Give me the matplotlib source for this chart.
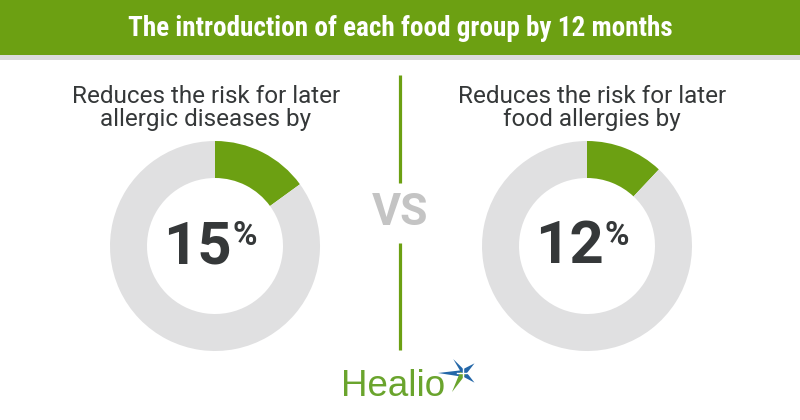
import matplotlib
matplotlib.use("Agg")
import matplotlib.pyplot as plt
from matplotlib.patches import Rectangle, Polygon
import numpy as np

title = "The introduction of each food group by 12 months"
labels = ["Reduces the risk for later\nallergic diseases by",
          "Reduces the risk for later\nfood allergies by"]
values = [15, 12]
brand = "Healio"

GREEN = "#6ca012"
GREY = "#e0e0e1"
DARK = "#353839"

fig = plt.figure(figsize=(8, 4.2), dpi=100)
ax = fig.add_axes([0, 0, 1, 1])

H = 420
def Y(py):
    return H - py

centers = [(215, 246), (587, 246)]
text_x = [206, 592]
R = 105
W = 37
for i, v in enumerate(values):
    cx, cy = centers[i]
    ax.pie([v, 100 - v], colors=[GREEN, GREY], startangle=90,
           counterclock=False, center=(cx, Y(cy)), radius=R,
           wedgeprops=dict(width=W, linewidth=0), frame=True)
    ax.text(text_x[i], Y(108), labels[i], ha="center", va="center",
            fontsize=17.5, color=DARK, family="Roboto", linespacing=1.05)
    # number
    ax.text(cx + 17, Y(247), str(v), ha="right", va="center", fontsize=43,
            fontweight="bold", color=DARK, family="Roboto")
    ax.text(cx + 18, Y(236), "%", ha="left", va="center", fontsize=24,
            fontweight="bold", color=DARK, family="Roboto")

ax.set_xlim(0, 800)
ax.set_ylim(0, 420)
ax.set_aspect("equal")
ax.axis("off")

# header
ax.add_patch(Rectangle((0, Y(55)), 800, 55, color=GREEN, lw=0))
ax.add_patch(Rectangle((0, Y(60)), 800, 5, color="#dcdcdc", lw=0))
ax.text(400, Y(29), title, color="white", ha="center", va="center",
        fontsize=19.5, fontweight="bold",
        family=["Roboto Condensed", "DejaVu Sans"], fontstretch="condensed")

# VS divider
ax.plot([400, 400], [Y(75), Y(183)], color=GREEN, lw=2.3, solid_capstyle="butt")
ax.plot([400, 400], [Y(243), Y(350)], color=GREEN, lw=2.3, solid_capstyle="butt")
ax.text(400, Y(213), "VS", ha="center", va="center", fontsize=32,
        fontweight="bold", color="#c4c4c4", family="Roboto")

# Healio logo
ax.text(341, Y(396), brand, ha="left", va="baseline", fontsize=26.5,
        color="#6aa42d", family="Liberation Sans")
sx, sy = 463, Y(373)
ray_ang = [180, 125, 40, -40]
ray_len = [25, 17, 15, 15]
pts = []
for a, r in zip(ray_ang, ray_len):
    ar = np.deg2rad(a)
    pts.append((sx + r * np.cos(ar), sy + r * np.sin(ar)))
    am = np.deg2rad(a - 40)
    pts.append((sx + 4 * np.cos(am), sy + 4 * np.sin(am)))
ax.add_patch(Polygon(pts, closed=True, color="#2467a8", lw=0))
ag = np.deg2rad(240)
gp = [(sx + 3 * np.cos(ag + 1.5), sy + 3 * np.sin(ag + 1.5)),
      (sx + 22 * np.cos(ag), sy + 22 * np.sin(ag)),
      (sx + 3 * np.cos(ag - 1.5), sy + 3 * np.sin(ag - 1.5))]
ax.add_patch(Polygon(gp, closed=True, color="#6aa42d", lw=0))
ax.plot([sx - 6, sx + 6], [sy, sy], color="white", lw=1)
ax.plot([sx, sx], [sy - 6, sy + 6], color="white", lw=1)

fig.savefig("out.png", dpi=100, facecolor="white")
